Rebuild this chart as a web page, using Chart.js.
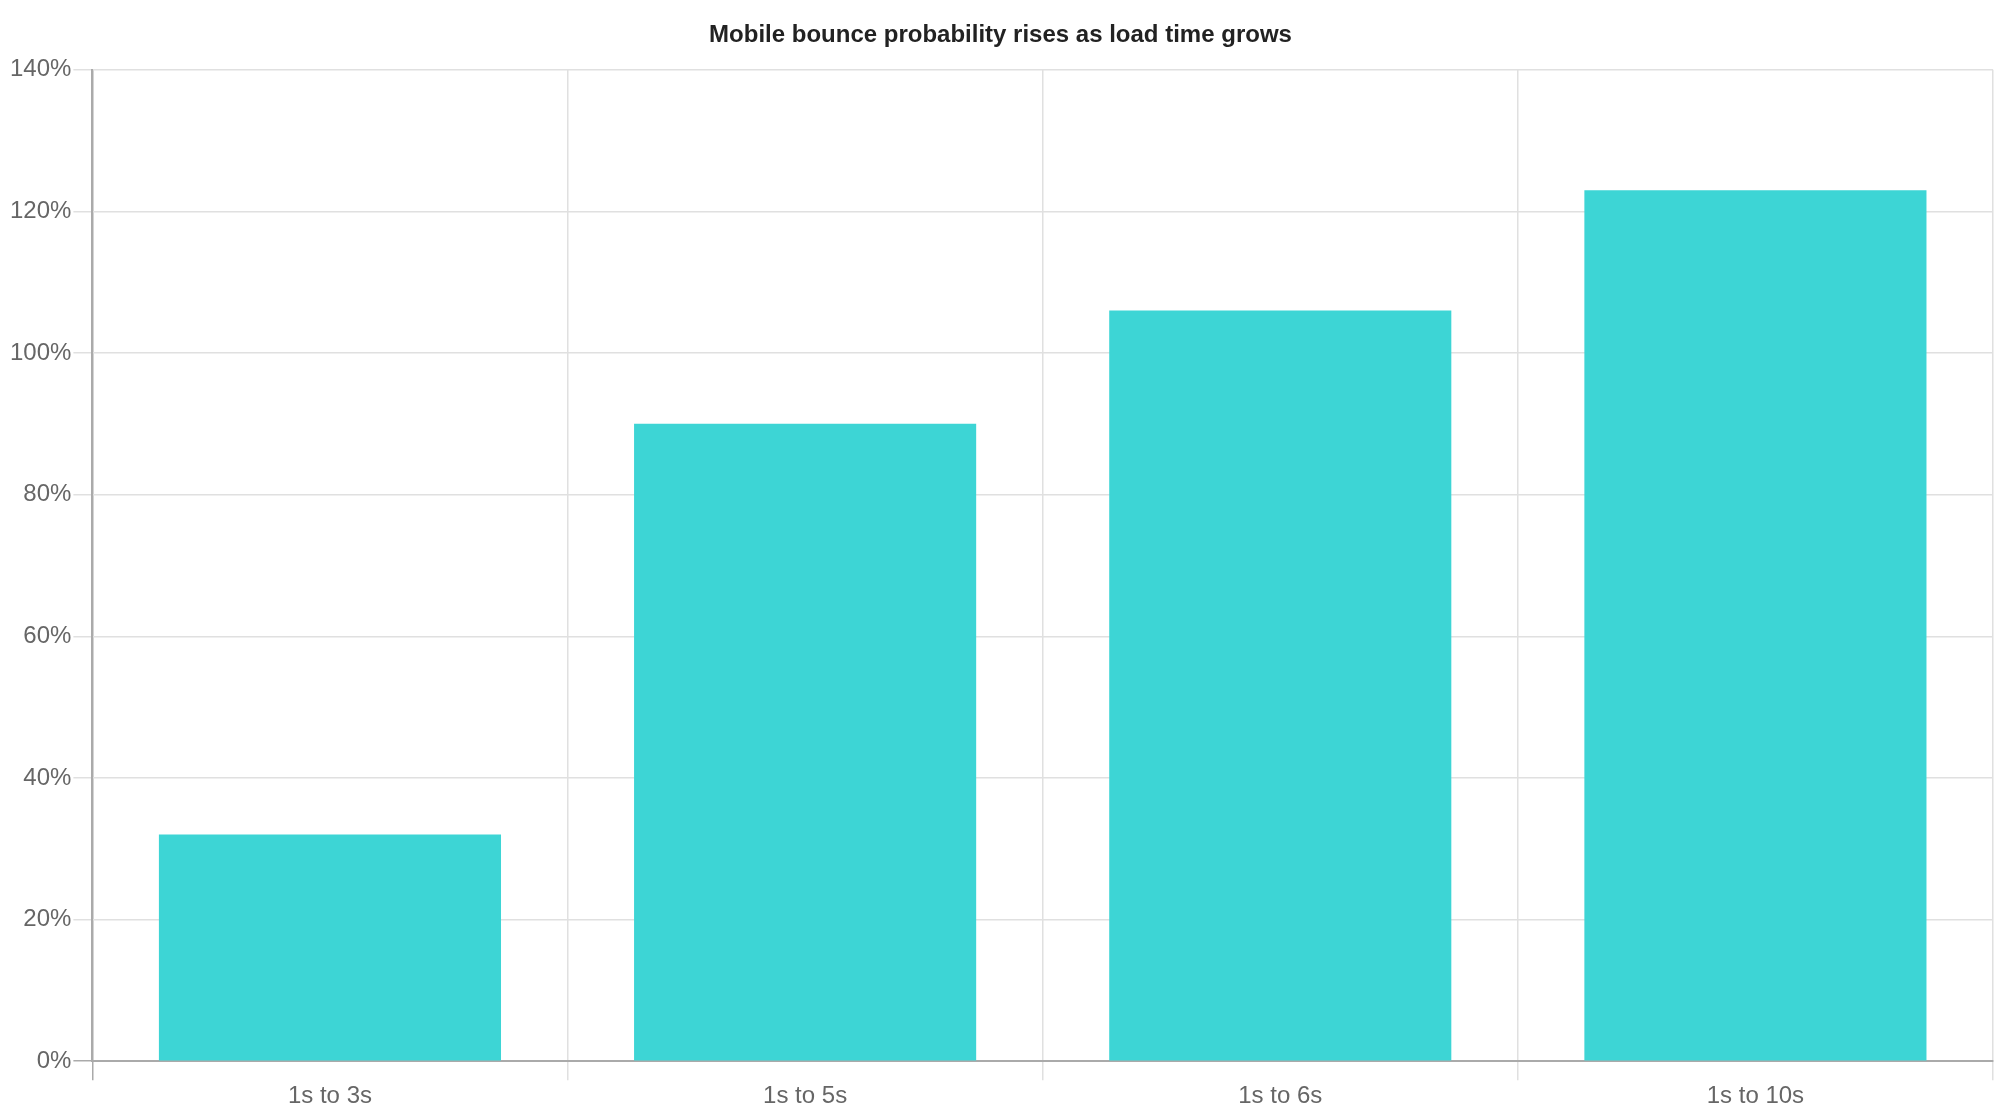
<!DOCTYPE html>
<html>
<head>
<meta charset="utf-8">
<script src="https://cdn.jsdelivr.net/npm/chart.js@4"></script>
<style>
  html, body { margin: 0; padding: 0; background: #fff; }
  #wrap { width: 2000px; height: 1120px; }
</style>
</head>
<body>
<div id="wrap"><canvas id="grafico"></canvas></div>
<script>
// dados
const categorias = ["1s to 3s", "1s to 5s", "1s to 6s", "1s to 10s"];
const probabilidade = [32, 90, 106, 123];
const titulo = "Mobile bounce probability rises as load time grows";

document.addEventListener("DOMContentLoaded", function () {
    Chart.defaults.font.family = "'Liberation Sans', Arial, sans-serif";

    new Chart(document.getElementById("grafico"), {
        type: "bar",
        data: {
            labels: categorias,
            datasets: [{
                label: "Bounce probability",
                data: probabilidade,
                backgroundColor: "#3dd5d5",
            }]
        },
        options: {
            responsive: true,
            maintainAspectRatio: false,
            animation: false,
            layout: { padding: { left: 8, right: 7, bottom: 7 } },
            plugins: {
                legend: { display: false },
                tooltip: { enabled: false },
                title: {
                    display: true,
                    text: titulo,
                    color: "#222",
                    font: { size: 24, weight: "bold" },
                    padding: { top: 21, bottom: 20 }
                }
            },
            scales: {
                x: {
                    grid: {
                        color: (c) => c.index === 0 ? "#aaa" : "#e0e0e0",
                        lineWidth: 1.5,
                        tickLength: 19
                    },
                    border: { color: "#aaa", width: 2 },
                    ticks: { color: "#666", font: { size: 24 }, padding: 2 }
                },
                y: {
                    min: 0,
                    max: 140,
                    grid: {
                        color: (c) => c.tick && c.tick.value === 0 ? "#aaa" : "#e0e0e0",
                        lineWidth: 1.5,
                        tickLength: 19
                    },
                    border: { color: "#aaa", width: 2 },
                    ticks: {
                        stepSize: 20,
                        color: "#666",
                        font: { size: 24 },
                        padding: 2,
                        callback: (v) => v + "%"
                    }
                }
            }
        }
    });
});
</script>
</body>
</html>
